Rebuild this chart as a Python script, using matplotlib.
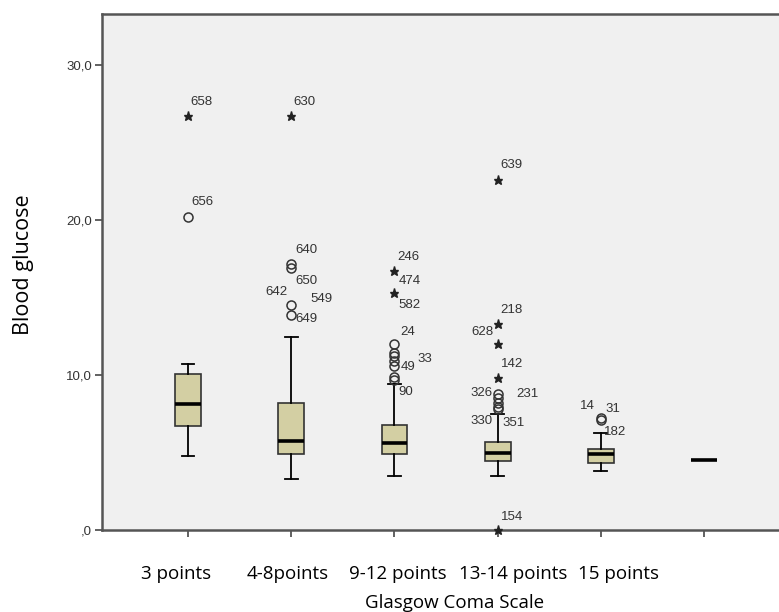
import numpy as np
import matplotlib
matplotlib.use("Agg")
import matplotlib.pyplot as plt

# DATA
groups = ["3 points", "4-8points", "9-12 points", "13-14 points", "15 points", ""]
q1 = [6.7, 4.9, 4.9, 4.45, 4.3, 4.5]
med = [8.1, 5.75, 5.6, 5.0, 4.9, 4.5]
q3 = [10.05, 8.2, 6.8, 5.7, 5.2, 4.5]
whislo = [4.8, 3.3, 3.5, 3.5, 3.8, 4.5]
whishi = [10.7, 12.45, 9.4, 7.5, 6.25, 4.5]
circles = [[20.2], [17.15, 16.9, 14.5, 13.9],
           [12.0, 11.4, 11.2, 10.9, 10.6, 9.85, 9.7],
           [8.75, 8.5, 8.2, 7.95, 7.8], [7.25, 7.1], []]
stars = [[26.7], [26.7], [16.7, 15.3], [22.6, 13.3, 12.0, 9.8, 0.0], [], []]

# case numbers printed next to the outliers
case_ids = ["658", "656", "630", "640", "650", "642", "549", "649", "246", "474",
            "582", "24", "33", "49", "90", "639", "218", "628", "142", "326",
            "231", "330", "351", "154", "14", "31", "182"]
case_group = [0, 0, 1, 1, 1, 1, 1, 1, 2, 2, 2, 2, 2, 2, 2, 3, 3, 3, 3, 3, 3, 3, 3, 3, 4, 4, 4]
case_value = [26.7, 20.2, 26.7, 17.15, 16.9, 14.5, 14.5, 13.9, 16.7, 15.3,
              15.3, 12.0, 11.2, 10.9, 9.7, 22.6, 13.3, 12.0, 9.8, 8.75,
              8.5, 7.95, 7.8, 0.0, 7.25, 7.1, 7.1]

ytick_vals = [0, 10, 20, 30]
ytick_labels = [",0", "10,0", "20,0", "30,0"]

# LAYOUT (pixel offsets for labels)
label_offsets = [(2, 14), (3, 15), (2, 14), (4, 14), (4, -13), (-4, 13), (19, 6), (4, -4),
                 (3, 14), (4, 12), (4, -12), (6, 12), (23, -3), (6, -6), (4, -12),
                 (3, 15), (3, 14), (-4, 12), (3, 14), (-5, 1), (19, 4), (-5, -14), (5, -14),
                 (3, 13), (-6, 12), (5, 11), (3, -12)]
right_aligned = ["642", "628", "326", "330", "14"]
xlabel_shift = [-12, -4, 3, 16, 18, 0]

num_font = "Liberation Sans"
big_font = "Open Sans"
bg = "#f0f0f0"
spine_col = "#555555"

fig = plt.figure(figsize=(7.79, 6.12), dpi=100)
ax = fig.add_axes([102 / 779, 1 - 530 / 612, 677 / 779, 516 / 612])
ax.set_facecolor(bg)

positions = np.arange(1, len(groups) + 1)
stats = []
for i in range(len(groups)):
    stats.append({"med": med[i], "q1": q1[i], "q3": q3[i],
                  "whislo": whislo[i], "whishi": whishi[i], "fliers": circles[i]})

ax.bxp(stats, positions=positions, widths=0.25, capwidths=0.125, patch_artist=True,
       boxprops=dict(facecolor="#d3cfa3", edgecolor="#333333", linewidth=1.2),
       medianprops=dict(color="black", linewidth=2.6),
       whiskerprops=dict(color="black", linewidth=1.3),
       capprops=dict(color="black", linewidth=1.3),
       flierprops=dict(marker="o", markerfacecolor="none", markeredgecolor="#333333",
                       markersize=6.5, markeredgewidth=1.1))

for i in range(len(groups)):
    if stars[i]:
        ax.plot([positions[i]] * len(stars[i]), stars[i], linestyle="none", marker="*",
                color="#222222", markersize=6.5, clip_on=False, zorder=5)

for k in range(len(case_ids)):
    dx, dy = label_offsets[k]
    ha = "right" if case_ids[k] in right_aligned else "left"
    ax.annotate(case_ids[k], xy=(positions[case_group[k]], case_value[k]),
                xytext=(dx, dy), textcoords="offset pixels", ha=ha, va="center",
                fontsize=9.5, family=num_font, color="#333333")

ax.set_xlim(1 - 86 / 103.2, 1 - 86 / 103.2 + 677 / 103.2)
ax.set_ylim(0, 516 / 15.5)

ax.set_yticks(ytick_vals)
ax.set_yticklabels(ytick_labels, fontsize=9.5, family=num_font, color="#333333")
ax.set_xticks(positions)
ax.set_xticklabels([])
ax.tick_params(axis="both", direction="out", length=5, width=1.3, color=spine_col)
ax.tick_params(axis="y", pad=2)

for i in range(len(groups)):
    ax.annotate(groups[i], xy=(positions[i], 0), xycoords=("data", "axes fraction"),
                xytext=(xlabel_shift[i], -44), textcoords="offset pixels",
                ha="center", va="center", fontsize=13.5, family=big_font, color="black")

for s in ["left", "top", "bottom"]:
    ax.spines[s].set_color(spine_col)
    ax.spines[s].set_linewidth(1.8)
ax.spines["right"].set_visible(False)

fig.text(455 / 779, 1 - 603 / 612, "Glasgow Coma Scale", ha="center", va="center",
         fontsize=13.5, family=big_font)
fig.text(24 / 779, 1 - 265 / 612, "Blood glucose", ha="center", va="center",
         rotation=90, fontsize=15.5, family=big_font)

fig.savefig("out.png", dpi=100, facecolor="white")
